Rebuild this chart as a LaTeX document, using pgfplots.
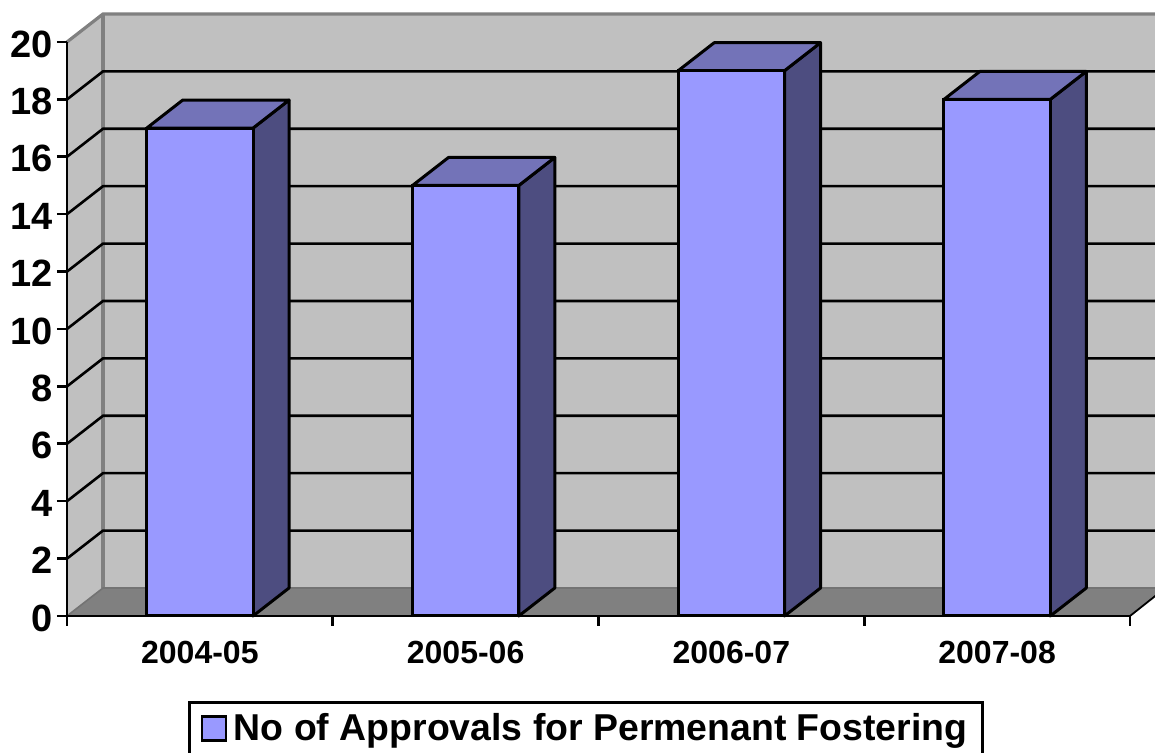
\documentclass[border=0pt]{standalone}
\usepackage{fontspec}
\setmainfont{Liberation Sans}
\usepackage{pgfplots}
\pgfplotsset{compat=1.18}
\definecolor{wall}{HTML}{C0C0C0}
\definecolor{floorc}{HTML}{808080}
\definecolor{barfront}{HTML}{9999FF}
\definecolor{bartop}{HTML}{7373B8}
\definecolor{barside}{HTML}{4D4D80}
\begin{document}
\begin{tikzpicture}
\useasboundingbox (0,0) rectangle (577.5pt,376.5pt);
\begin{axis}[
  at={(33.5pt,68.5pt)}, anchor=south west,
  scale only axis, width=531.5pt, height=287pt,
  xmin=0, xmax=4, ymin=0, ymax=20,
  clip=false,
  axis on top,
  axis x line*=bottom, axis y line*=left,
  axis line style={-, black, line width=1.3pt},
  every tick/.style={black, line width=1.3pt},
  tick align=outside, major tick length=5pt,
  xtick={0,1,2,3,4}, xticklabels={},
  extra x ticks={0.5,1.5,2.5,3.5},
  extra x tick labels={2004-05,2005-06,2006-07,2007-08},
  extra x tick style={major tick length=0pt,
    ticklabel style={font=\fontsize{16}{18}\selectfont\bfseries, yshift=-9pt}},
  ytick={0,2,...,20},
  yticklabel style={font=\fontsize{19}{21}\selectfont\bfseries, xshift=1.5pt, yshift=-1pt},
  /pgf/number format/assume math mode=true,
  unbounded coords=jump,
  legend style={at={(axis cs:1.953,-2.97)}, anchor=north, draw=black, line width=1.2pt,
    font=\fontsize{18.7}{21}\selectfont\bfseries, inner xsep=5.5pt, inner ysep=3.5pt, fill=white},
  legend image code/.code={\path[draw=none, fill=none] (0pt,0pt) rectangle (14pt,0pt);
    \draw[fill=barfront, draw=black, line width=1.2pt] (0pt,-6pt) rectangle (12pt,6pt);},
]
% walls and floor
\addplot[forget plot, fill=wall, draw=none] coordinates {(0,0) (0,20) (0.1355,20.976) (0.1355,0.976)} -- cycle;
\addplot[forget plot, fill=wall, draw=none] coordinates {(0.1355,0.976) (0.1355,20.976) (4.1,20.976) (4.1,0.976)} -- cycle;
\addplot[forget plot, fill=floorc, draw=none] coordinates {(0,0) (4,0) (4.1,0.734) (4.1,0.976) (0.1355,0.976)} -- cycle;
% wall edges
\addplot[forget plot, floorc, line width=1.6pt] coordinates {(0,20) (0.1355,20.976) (4.1,20.976)};
\addplot[forget plot, floorc, line width=1.6pt] coordinates {(0.1355,20.976) (0.1355,0.976)};
\addplot[forget plot, black!55, line width=0.8pt] coordinates {(0,0) (0.1355,0.976) (4.1,0.976)};
\addplot[forget plot, black, line width=0.9pt] coordinates {(4,0) (4.1,0.734)};
% value axis along the front of the side wall
\addplot[forget plot, black, line width=1.3pt] coordinates {(0,0) (0,20)};
% gridlines on the side and back walls
\addplot[forget plot, black, line width=1.3pt] coordinates {
 (0,2) (0.1355,2.976) (4.1,2.976) (nan,nan)
 (0,4) (0.1355,4.976) (4.1,4.976) (nan,nan)
 (0,6) (0.1355,6.976) (4.1,6.976) (nan,nan)
 (0,8) (0.1355,8.976) (4.1,8.976) (nan,nan)
 (0,10) (0.1355,10.976) (4.1,10.976) (nan,nan)
 (0,12) (0.1355,12.976) (4.1,12.976) (nan,nan)
 (0,14) (0.1355,14.976) (4.1,14.976) (nan,nan)
 (0,16) (0.1355,16.976) (4.1,16.976) (nan,nan)
 (0,18) (0.1355,18.976) (4.1,18.976)
};
% bar side faces
\addplot[forget plot, fill=barside, draw=black, line width=1.5pt, line join=round] coordinates {(0.7,0) (0.8355,0.976) (0.8355,17.976) (0.7,17)} -- cycle;
\addplot[forget plot, fill=barside, draw=black, line width=1.5pt, line join=round] coordinates {(1.7,0) (1.8355,0.976) (1.8355,15.976) (1.7,15)} -- cycle;
\addplot[forget plot, fill=barside, draw=black, line width=1.5pt, line join=round] coordinates {(2.7,0) (2.8355,0.976) (2.8355,19.976) (2.7,19)} -- cycle;
\addplot[forget plot, fill=barside, draw=black, line width=1.5pt, line join=round] coordinates {(3.7,0) (3.8355,0.976) (3.8355,18.976) (3.7,18)} -- cycle;
% bar top faces
\addplot[forget plot, fill=bartop, draw=black, line width=1.5pt, line join=round] coordinates {(0.3,17) (0.4355,17.976) (0.8355,17.976) (0.7,17)} -- cycle;
\addplot[forget plot, fill=bartop, draw=black, line width=1.5pt, line join=round] coordinates {(1.3,15) (1.4355,15.976) (1.8355,15.976) (1.7,15)} -- cycle;
\addplot[forget plot, fill=bartop, draw=black, line width=1.5pt, line join=round] coordinates {(2.3,19) (2.4355,19.976) (2.8355,19.976) (2.7,19)} -- cycle;
\addplot[forget plot, fill=bartop, draw=black, line width=1.5pt, line join=round] coordinates {(3.3,18) (3.4355,18.976) (3.8355,18.976) (3.7,18)} -- cycle;
% bar front faces
\addplot[ybar, bar width=53.15pt, bar shift=0pt, fill=barfront, draw=black, line width=1.5pt]
  coordinates {(0.5,17) (1.5,15) (2.5,19) (3.5,18)};
\addlegendentry{No of Approvals for Permenant Fostering}
\end{axis}
\end{tikzpicture}
\end{document}
